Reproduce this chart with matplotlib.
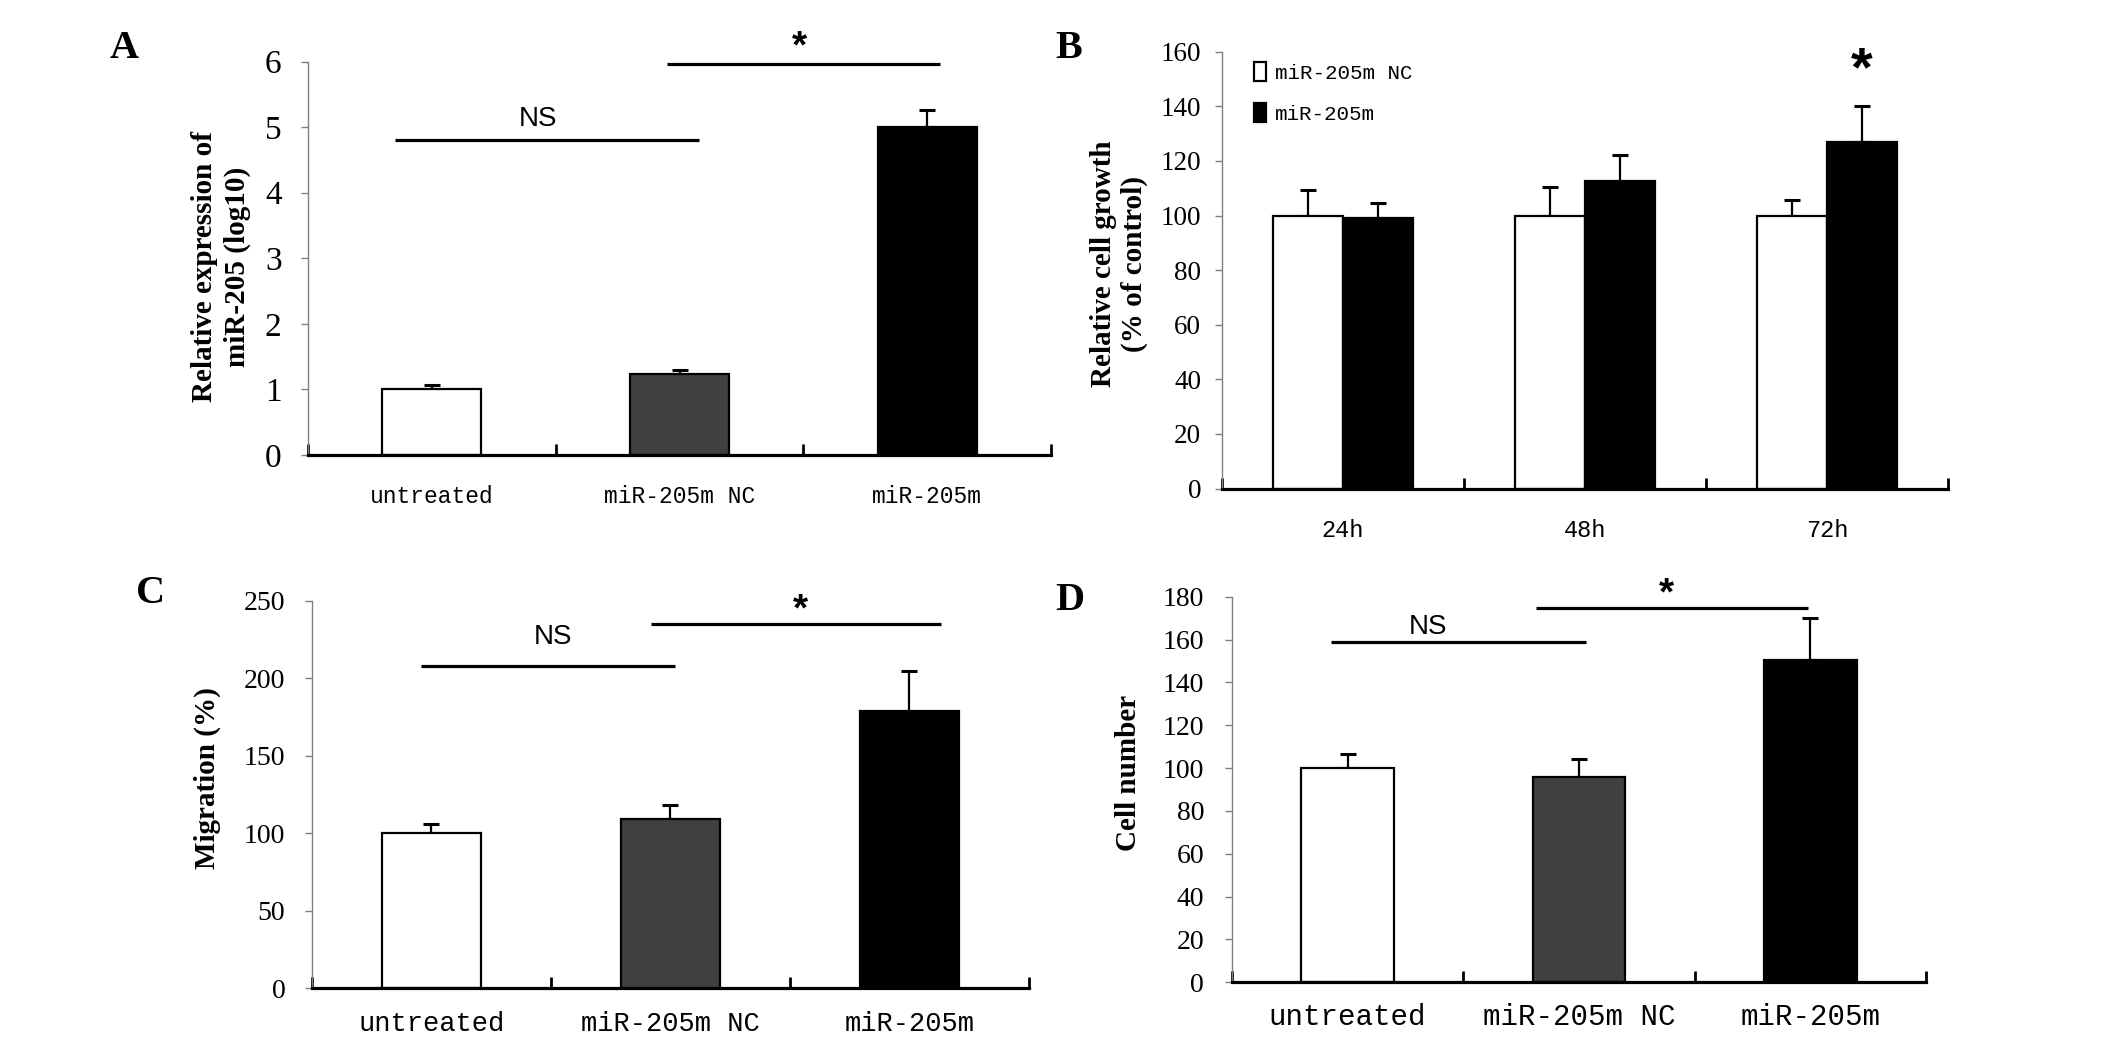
import numpy as np
import matplotlib
matplotlib.use("Agg")
import matplotlib.pyplot as plt

# --- data ---
groups = ["untreated", "miR-205m NC", "miR-205m"]
bar_colors = ["white", "#404040", "black"]

expr_mean = [1.0, 1.23, 5.0]          # A: relative expression (log10)
expr_err = [0.07, 0.07, 0.26]

times = ["24h", "48h", "72h"]         # B: relative cell growth
growth_nc = [100, 100, 100]
growth_nc_err = [9.5, 10.5, 5.5]
growth_m = [99, 112.5, 126.8]
growth_m_err = [5.5, 9.5, 13.2]

migr_mean = [100, 109.5, 179]         # C: migration (%)
migr_err = [6, 8.5, 25.5]

cell_mean = [100, 95.7, 150.5]        # D: cell number
cell_err = [6.5, 8.5, 19.5]

W, H = 2126, 1047
fig = plt.figure(figsize=(W / 100, H / 100), dpi=100)

SERIF = "Liberation Serif"
MONO = "Liberation Mono"
SANS = "Liberation Sans"


def make_axes(left, right, top, bottom):
    return fig.add_axes([left / W, 1 - bottom / H, (right - left) / W, (bottom - top) / H])


def style(ax, ymax, ystep, ysize, ypad, xlabels, xsize, xpad):
    ax.set_xlim(-0.5, len(xlabels) - 0.5)
    ax.set_ylim(0, ymax)
    ax.spines["top"].set_visible(False)
    ax.spines["right"].set_visible(False)
    ax.spines["left"].set_color("#808080")
    ax.spines["left"].set_linewidth(1)
    ax.spines["bottom"].set_linewidth(2.3)
    ax.set_yticks(np.arange(0, ymax + 0.001, ystep))
    ax.set_yticklabels([f"{v:g}" for v in np.arange(0, ymax + 0.001, ystep)],
                       fontsize=ysize, family=SERIF)
    ax.tick_params(axis="y", direction="out", length=5, width=1, color="#808080", pad=ypad)
    ax.set_xticks(range(len(xlabels)))
    ax.set_xticklabels(xlabels, fontsize=xsize, family=MONO)
    ax.set_xticks(np.arange(-0.5, len(xlabels), 1.0), minor=True)
    ax.tick_params(axis="x", which="major", length=0, pad=xpad)
    ax.tick_params(axis="x", which="minor", direction="in", length=8, width=2)


def bars3(ax, means, errs, width):
    x = np.arange(len(means))
    ax.bar(x, means, width=width, color=bar_colors, edgecolor="black", linewidth=1.6, zorder=2)
    ax.errorbar(x, means, yerr=[np.zeros(len(errs)), errs], fmt="none", ecolor="black",
                elinewidth=1.6, capsize=6, capthick=2.2, zorder=1)


def sig_line(ax, x0, x1, y, label, tx, ty, size, family=SANS, weight="normal"):
    ax.plot([x0, x1], [y, y], color="black", lw=2.3, clip_on=False, solid_capstyle="butt")
    ax.text(tx, ty, label, ha="center", va="center", fontsize=size, family=family,
            weight=weight, clip_on=False)


# ---------- A ----------
axA = make_axes(308, 1051, 61.7, 454.8)
bars3(axA, expr_mean, expr_err, 0.40)
style(axA, 6, 1, 24, 14, groups, 16.5, 22)
sig_line(axA, -0.15, 1.08, 4.8, "NS", 0.43, 5.13, 20)
sig_line(axA, 0.95, 2.05, 5.97, "*", 1.485, 6.22, 28, weight="bold")

# ---------- B ----------
axB = make_axes(1222, 1948, 51.7, 488.5)
xb = np.arange(len(times))
bw = 0.29
axB.bar(xb - bw / 2, growth_nc, width=bw, color="white", edgecolor="black", linewidth=1.6,
        zorder=2, label="miR-205m NC")
axB.bar(xb + bw / 2, growth_m, width=bw, color="black", edgecolor="black", linewidth=1.6,
        zorder=2, label="miR-205m")
axB.errorbar(xb - bw / 2, growth_nc, yerr=[np.zeros(3), growth_nc_err], fmt="none",
             ecolor="black", elinewidth=1.6, capsize=6, capthick=2.2, zorder=1)
axB.errorbar(xb + bw / 2, growth_m, yerr=[np.zeros(3), growth_m_err], fmt="none",
             ecolor="black", elinewidth=1.6, capsize=6, capthick=2.2, zorder=1)
style(axB, 160, 20, 19.5, 10, times, 17, 22)
axB.text(2 + bw / 2, 153, "*", ha="center", va="center", fontsize=40, family=SANS, weight="bold")
leg = axB.legend(loc="upper left", bbox_to_anchor=(0.044, 0.976), frameon=False,
                 prop={"family": MONO, "size": 15}, handlelength=0.6, handleheight=1.0,
                 handletextpad=0.4, labelspacing=1.0, borderpad=0, borderaxespad=0)

# ---------- C ----------
axC = make_axes(311.8, 1029, 600.7, 988.3)
bars3(axC, migr_mean, migr_err, 0.415)
style(axC, 250, 50, 20, 14, groups, 19.5, 16)
sig_line(axC, -0.043, 1.02, 207.7, "NS", 0.51, 226.8, 20)
sig_line(axC, 0.92, 2.13, 234.8, "*", 1.545, 244, 28, weight="bold")

# ---------- D ----------
axD = make_axes(1231.8, 1926, 596.7, 982.3)
bars3(axD, cell_mean, cell_err, 0.40)
style(axD, 180, 20, 20, 15, groups, 21, 15)
sig_line(axD, -0.07, 1.03, 159, "NS", 0.35, 166, 20)
sig_line(axD, 0.815, 1.99, 174.9, "*", 1.38, 181, 28, weight="bold")

# ---------- axis titles and panel letters ----------
def ftext(x, y, s, **kw):
    fig.text(x / W, 1 - y / H, s, **kw)

ylab = dict(rotation=90, ha="center", va="center", family=SERIF, weight="bold", fontsize=21)
ftext(221, 267, "Relative expression of\nmiR-205 (log10)", linespacing=1.3, **ylab)
ftext(1119, 264, "Relative cell growth\n(% of control)", linespacing=1.15, **ylab)
ftext(207, 778, "Migration (%)", **ylab)
ftext(1128, 773, "Cell number", **ylab)

letter = dict(ha="center", va="baseline", family=SERIF, weight="bold", fontsize=29)
ftext(124.5, 58, "A", **letter)
ftext(1069, 58, "B", **letter)
ftext(150.5, 603, "C", **letter)
ftext(1069.5, 610, "D", **letter)

fig.savefig("out.png", dpi=100)
